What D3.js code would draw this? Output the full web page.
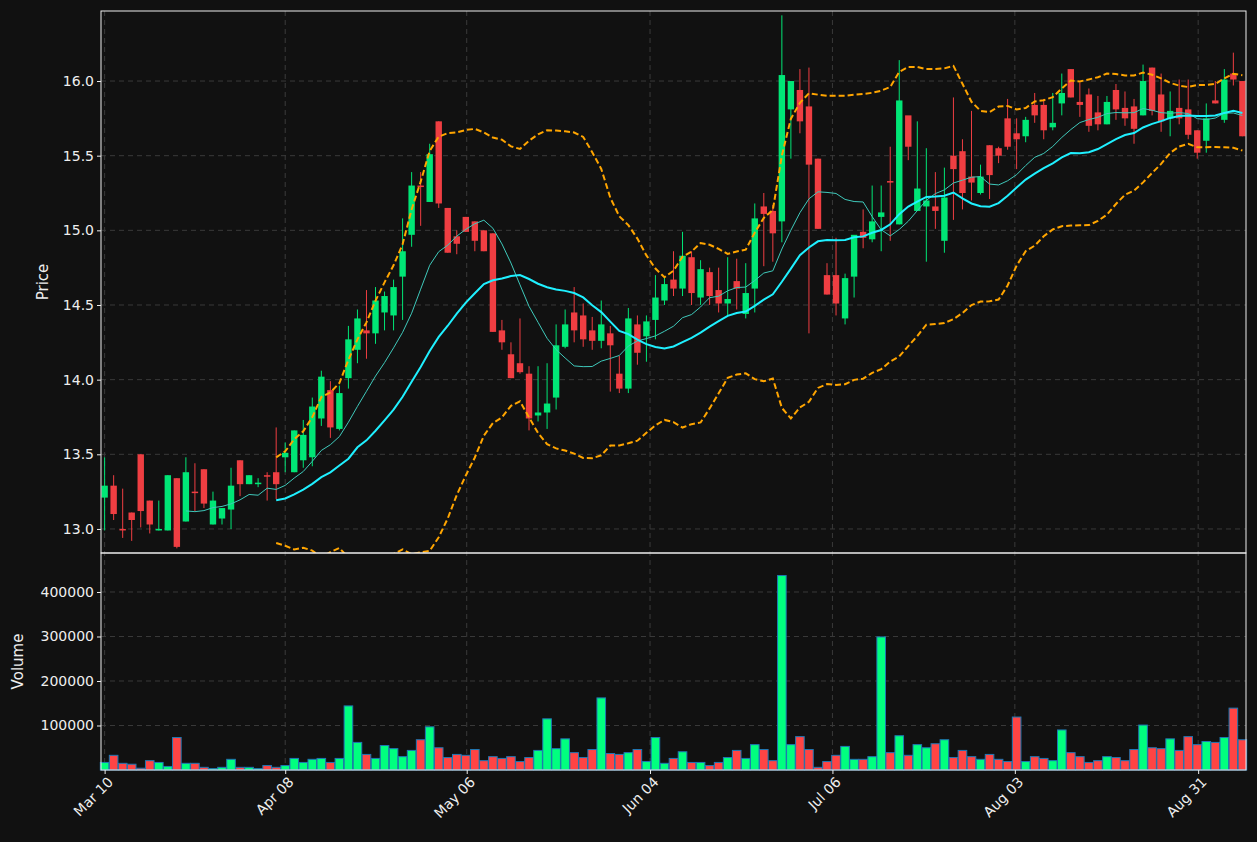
<!DOCTYPE html>
<html>
<head>
<meta charset="utf-8">
<script src="https://cdn.jsdelivr.net/npm/d3@7"></script>
<style>
  body { margin: 0; background: #111111; }
  text { font-family: "DejaVu Sans", sans-serif; }
</style>
</head>
<body>
<div id="chart"></div>
<script>
// OHLC, one entry per trading day
const opens = [13.21,13.29,13.00,13.11,13.50,13.19,12.99,12.99,13.34,13.05,13.25,13.40,13.03,13.07,13.13,13.46,13.30,13.30,13.36,13.38,
  13.48,13.38,13.46,13.48,13.74,13.93,13.67,14.01,14.20,14.33,14.31,14.45,14.43,14.69,14.97,15.30,15.19,15.73,15.15,14.96,
  15.09,15.06,15.00,14.98,14.33,14.17,14.11,14.04,13.76,13.78,13.88,14.22,14.45,14.43,14.33,14.26,14.31,14.04,13.94,14.37,
  14.29,14.40,14.53,14.67,14.61,14.82,14.55,14.72,14.60,14.51,14.66,14.44,14.61,15.16,15.13,15.06,15.81,15.94,15.83,15.48,
  14.70,14.70,14.41,14.69,14.99,14.94,15.09,15.33,15.04,15.77,15.13,15.16,15.16,14.93,15.50,15.53,15.36,15.25,15.57,15.55,
  15.75,15.65,15.63,15.84,15.84,15.69,15.85,16.08,15.86,15.91,15.79,15.71,15.94,15.82,15.83,15.77,16.09,15.91,15.75,15.82,
  15.81,15.67,15.60,15.87,15.74,16.05,16.00];
const closes = [13.29,13.10,12.99,13.06,13.12,13.03,13.00,13.36,12.88,13.38,13.24,13.17,13.19,13.14,13.29,13.30,13.36,13.31,13.35,13.30,
  13.51,13.66,13.63,13.82,14.02,13.68,13.91,14.27,14.41,14.31,14.53,14.56,14.62,14.86,15.30,15.29,15.51,15.18,14.85,14.91,
  14.99,14.93,14.86,14.32,14.25,14.01,14.05,13.74,13.78,13.84,14.23,14.37,14.33,14.27,14.26,14.37,14.23,13.94,14.41,14.18,
  14.39,14.55,14.64,14.61,14.83,14.58,14.74,14.56,14.51,14.54,14.61,14.58,15.08,15.11,14.98,16.04,16.00,15.73,15.44,15.01,
  14.57,14.51,14.68,14.97,14.95,15.06,15.12,15.32,15.87,15.56,15.28,15.20,15.13,15.22,15.41,15.25,15.32,15.36,15.37,15.50,
  15.56,15.61,15.74,15.77,15.67,15.72,15.92,15.89,15.84,15.70,15.71,15.86,15.81,15.75,15.68,16.00,15.80,15.73,15.80,15.75,
  15.64,15.52,15.75,15.85,16.01,16.01,15.63];
const highs = [13.48,13.36,13.27,13.11,13.50,13.19,13.19,13.36,13.34,13.48,13.44,13.40,13.25,13.14,13.41,13.46,13.36,13.34,13.38,13.68,
  13.58,13.66,13.73,13.88,14.06,13.99,13.96,14.36,14.47,14.60,14.62,14.59,14.67,15.08,15.39,15.39,15.58,15.73,15.15,15.00,
  15.09,15.06,15.00,14.98,14.40,14.25,14.41,14.09,14.09,14.11,14.37,14.47,14.62,14.51,14.42,14.53,14.36,14.16,14.48,14.43,
  14.43,14.70,14.69,14.86,14.99,14.86,14.80,14.75,14.75,14.82,14.81,14.78,15.18,15.25,15.17,16.44,15.97,16.08,16.09,15.48,
  14.78,14.95,14.71,14.83,15.14,15.30,15.30,15.56,16.14,15.70,15.73,15.55,15.39,15.42,15.89,15.61,15.80,15.44,15.57,15.56,
  15.88,15.75,15.76,15.92,15.88,15.92,16.05,16.08,15.99,15.95,15.90,15.90,15.98,15.93,15.88,16.11,16.09,16.05,15.93,16.01,
  16.01,15.67,15.85,16.00,16.08,16.19,16.00];
const lows = [12.99,13.06,12.94,12.92,13.01,12.97,12.99,12.99,12.87,13.05,13.12,13.14,13.03,13.03,13.00,13.22,13.30,13.28,13.19,13.20,
  13.38,13.38,13.41,13.42,13.69,13.61,13.66,13.94,14.11,14.14,14.24,14.33,14.33,14.40,14.89,15.03,15.19,15.15,14.85,14.84,
  14.99,14.86,14.86,14.32,14.20,14.01,14.04,13.66,13.72,13.67,13.80,14.21,14.25,14.22,14.20,14.21,13.92,13.91,13.91,14.10,
  14.12,14.27,14.50,14.56,14.56,14.50,14.50,14.50,14.45,14.43,14.47,14.41,14.45,14.76,14.79,14.92,15.48,15.65,14.31,15.01,
  14.57,14.43,14.37,14.55,14.88,14.92,14.86,14.93,15.04,15.47,15.13,14.79,15.01,14.85,15.07,15.14,15.20,15.24,15.21,15.45,
  15.54,15.41,15.59,15.72,15.61,15.67,15.77,15.89,15.76,15.66,15.67,15.71,15.74,15.70,15.58,15.77,15.77,15.66,15.63,15.71,
  15.61,15.48,15.52,15.85,15.72,15.97,15.63];
const volumes = [17000,33000,15000,13000,4000,21000,17000,8000,73000,15000,15000,6000,3000,6000,24000,6000,6000,3000,10000,6000,
  10000,26000,17000,24000,26000,17000,26000,144000,62000,35000,26000,55000,48000,30000,44000,68000,97000,50000,28000,35000,
  33000,46000,21000,30000,26000,30000,19000,28000,44000,115000,48000,70000,39000,28000,46000,162000,37000,35000,39000,46000,
  19000,73000,15000,26000,41000,17000,17000,10000,17000,28000,44000,26000,57000,46000,21000,437000,57000,75000,46000,6000,
  19000,33000,53000,24000,24000,30000,299000,39000,77000,33000,57000,50000,59000,68000,28000,44000,30000,24000,35000,24000,
  19000,119000,19000,30000,26000,21000,90000,39000,30000,17000,21000,30000,28000,21000,46000,101000,50000,48000,70000,44000,
  75000,57000,64000,62000,73000,139000,68000];
const tickLabels = ["Mar 10","Apr 08","May 06","Jun 04","Jul 06","Aug 03","Aug 31"];
const tickIndex = [0, 20, 40.1, 60.4, 80.6, 100.8, 121.1];

const W = 1257, H = 842;
const left = 101, right = 1246;
const pTop = 11, pBot = 553, vBot = 770;
const n = closes.length;

const svg = d3.select("#chart").append("svg").attr("width", W).attr("height", H)
  .style("background", "#111111");

const x = d3.scaleLinear().domain([-0.4, n - 0.6]).range([left, right]);
const y = d3.scaleLinear().domain([12.839, 16.469]).range([pBot, pTop]);
const yv = d3.scaleLinear().domain([0, 487600]).range([vBot, pBot]);

// rolling stats
function sma(arr, k) {
  return arr.map((d, i) => i < k - 1 ? null : d3.mean(arr.slice(i - k + 1, i + 1)));
}
function sd(arr, k) {
  return arr.map((d, i) => i < k - 1 ? null : d3.deviation(arr.slice(i - k + 1, i + 1)) * Math.sqrt((k - 1) / k));
}
const ma10 = sma(closes, 10), ma20 = sma(closes, 20), s20 = sd(closes, 20);
const bbUp = ma20.map((m, i) => m == null ? null : m + 2 * s20[i]);
const bbLo = ma20.map((m, i) => m == null ? null : m - 2 * s20[i]);

// clip
svg.append("clipPath").attr("id", "pc").append("rect")
  .attr("x", left).attr("y", pTop).attr("width", right - left).attr("height", pBot - pTop);

// grids
const grid = svg.append("g").attr("stroke", "#3a3a3a").attr("stroke-dasharray", "5,4").attr("stroke-width", 1);
const pTicks = [13.0, 13.5, 14.0, 14.5, 15.0, 15.5, 16.0];
const vTicks = [100000, 200000, 300000, 400000];
pTicks.forEach(t => grid.append("line").attr("x1", left).attr("x2", right).attr("y1", y(t)).attr("y2", y(t)));
vTicks.forEach(t => grid.append("line").attr("x1", left).attr("x2", right).attr("y1", yv(t)).attr("y2", yv(t)));
tickIndex.forEach(t => grid.append("line").attr("x1", x(t)).attr("x2", x(t)).attr("y1", pTop).attr("y2", vBot));

// candles
const up = "#00e676", dn = "#ef3e42";
const cg = svg.append("g").attr("clip-path", "url(#pc)");
const idx = d3.range(n);
cg.selectAll("line.wick").data(idx).enter().append("line")
  .attr("x1", i => x(i)).attr("x2", i => x(i))
  .attr("y1", i => y(highs[i])).attr("y2", i => y(lows[i]))
  .attr("stroke", i => closes[i] >= opens[i] ? up : dn).attr("stroke-width", 1);
cg.selectAll("rect.body").data(idx).enter().append("rect")
  .attr("x", i => x(i) - 3.2).attr("width", 6.4)
  .attr("y", i => y(Math.max(opens[i], closes[i])))
  .attr("height", i => Math.max(1.5, Math.abs(y(opens[i]) - y(closes[i]))))
  .attr("fill", i => closes[i] >= opens[i] ? up : dn);

// overlays
const line = d3.line().defined(d => d != null).x((d, i) => x(i)).y(d => y(d));
cg.append("path").datum(ma10).attr("d", line).attr("fill", "none").attr("stroke", "#3fc9bb").attr("stroke-width", 1);
cg.append("path").datum(ma20).attr("d", line).attr("fill", "none").attr("stroke", "#1ff0ff").attr("stroke-width", 2);
[bbUp, bbLo].forEach(b => cg.append("path").datum(b).attr("d", line).attr("fill", "none")
  .attr("stroke", "#ffa500").attr("stroke-width", 2).attr("stroke-dasharray", "6,3"));

// volume
svg.append("g").selectAll("rect").data(idx).enter().append("rect")
  .attr("x", i => x(i) - 4.3).attr("width", 8.6)
  .attr("y", i => yv(volumes[i])).attr("height", i => vBot - yv(volumes[i]))
  .attr("fill", i => closes[i] >= opens[i] ? "#00ff7f" : "#ff4444")
  .attr("stroke", "#1f77b4").attr("stroke-width", 1);

// frames
svg.append("rect").attr("x", left).attr("y", pTop).attr("width", right - left).attr("height", pBot - pTop)
  .attr("fill", "none").attr("stroke", "#eeeeee");
svg.append("rect").attr("x", left).attr("y", pBot).attr("width", right - left).attr("height", vBot - pBot)
  .attr("fill", "none").attr("stroke", "#eeeeee");

// axes
const axP = svg.append("g").attr("transform", `translate(${left},0)`)
  .call(d3.axisLeft(y).tickValues(pTicks).tickFormat(d3.format(".1f")).tickSize(4));
const axV = svg.append("g").attr("transform", `translate(${left},0)`)
  .call(d3.axisLeft(yv).tickValues(vTicks).tickFormat(d3.format("d")).tickSize(4));
const axX = svg.append("g").attr("transform", `translate(0,${vBot})`)
  .call(d3.axisBottom(x).tickValues(tickIndex).tickFormat((d, i) => tickLabels[i]).tickSize(4));
[axP, axV, axX].forEach(a => {
  a.select(".domain").remove();
  a.selectAll("line").attr("stroke", "#eeeeee");
  a.selectAll("text").attr("fill", "#eeeeee").style("font-size", "14px");
});
axX.selectAll("text").attr("text-anchor", "end").attr("dx", "-0.2em").attr("dy", "0.6em")
  .attr("transform", "rotate(-45)");

svg.append("text").attr("transform", `translate(48,${(pTop + pBot) / 2}) rotate(-90)`)
  .attr("text-anchor", "middle").attr("fill", "#eeeeee").style("font-size", "15px").text("Price");
svg.append("text").attr("transform", `translate(23,${(pBot + vBot) / 2}) rotate(-90)`)
  .attr("text-anchor", "middle").attr("fill", "#eeeeee").style("font-size", "15px").text("Volume");
</script>
</body>
</html>
